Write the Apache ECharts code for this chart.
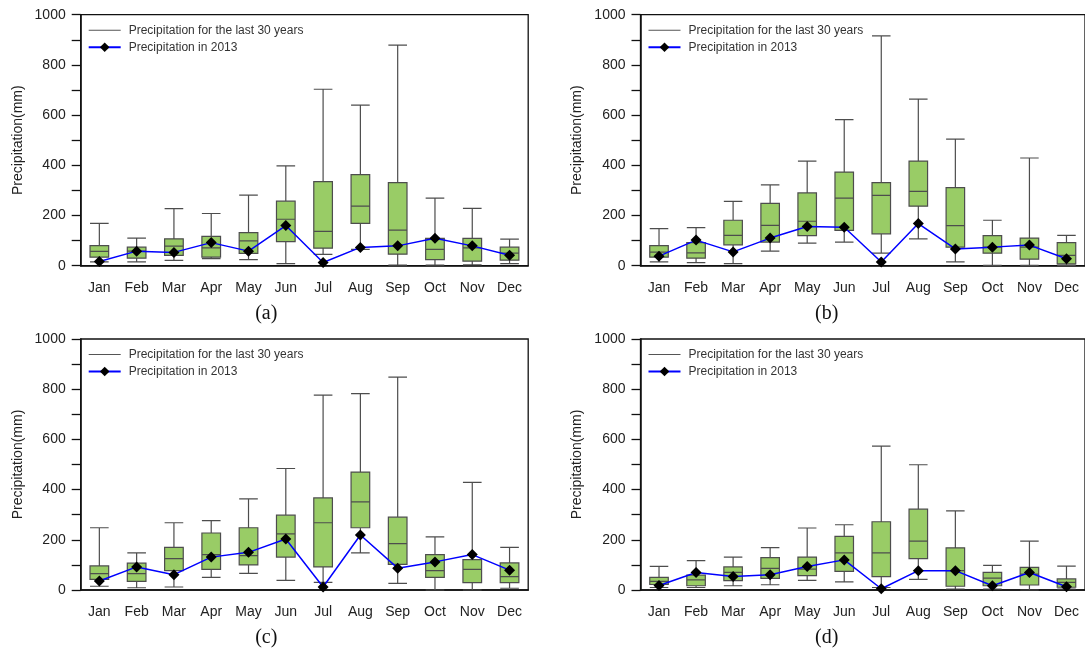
<!DOCTYPE html>
<html lang="en">
  <head>
    <meta charset="UTF-8" />
    <title>Precipitation</title>
    <script src="https://cdn.jsdelivr.net/npm/echarts@6/dist/echarts.min.js"></script>
  </head>

  <body style="margin: 0; background: #fff">
    <div id="main" style="width: 1085px; height: 651px"></div>

    <script>
      var months = ["Jan", "Feb", "Mar", "Apr", "May", "Jun", "Jul", "Aug", "Sep", "Oct", "Nov", "Dec"];
      var yTicks = [0, 200, 400, 600, 800, 1000];

      // [low, q1, median, q3, high] for the last 30 years
      var boxA = [
        [15, 34, 57, 80, 169], [15, 30, 58, 74, 110], [21, 41, 78, 107, 227], [28, 34, 71, 117, 208],
        [24, 49, 99, 132, 281], [8, 96, 185, 257, 398], [45, 70, 137, 335, 703], [65, 169, 237, 363, 640],
        [2, 46, 142, 331, 879], [2, 24, 65, 109, 269], [3, 18, 71, 109, 228], [8, 22, 50, 74, 106]
      ];
      var lineA = [17, 58, 53, 92, 58, 160, 13, 73, 79, 109, 79, 42];

      var boxB = [
        [15, 34, 54, 80, 148], [12, 30, 51, 92, 152], [8, 83, 121, 181, 256], [58, 94, 161, 248, 322],
        [90, 120, 177, 290, 417], [94, 141, 269, 373, 582], [50, 127, 280, 331, 916], [107, 237, 296, 417, 664],
        [15, 74, 160, 311, 504], [1, 50, 74, 120, 181], [1, 26, 74, 110, 429], [1, 7, 41, 92, 121]
      ];
      var lineB = [38, 102, 55, 110, 156, 153, 15, 168, 67, 74, 82, 28];

      var boxC = [
        [15, 42, 65, 96, 248], [9, 34, 65, 107, 148], [12, 77, 125, 170, 268], [50, 82, 141, 227, 276],
        [66, 100, 137, 248, 363], [38, 131, 224, 298, 484], [30, 92, 268, 367, 776], [148, 248, 351, 470, 782],
        [26, 102, 185, 290, 848], [0, 50, 77, 141, 212], [0, 29, 82, 121, 429], [7, 29, 53, 108, 170]
      ];
      var lineC = [36, 92, 61, 131, 150, 203, 12, 219, 87, 112, 141, 79];

      var boxD = [
        [10, 22, 34, 50, 94], [10, 17, 40, 59, 117], [17, 37, 70, 92, 131], [21, 46, 86, 129, 169],
        [38, 57, 83, 131, 247], [32, 74, 148, 214, 260], [10, 53, 148, 272, 573], [42, 125, 195, 322, 499],
        [4, 15, 77, 168, 315], [4, 17, 47, 70, 98], [0, 20, 63, 90, 195], [4, 11, 30, 44, 95]
      ];
      var lineD = [18, 70, 54, 61, 94, 120, 5, 77, 77, 17, 70, 13];

      var panels = [
        { tag: "(a)", box: boxA, line: lineA, left: 80.7, top: 14.7 },
        { tag: "(b)", box: boxB, line: lineB, left: 640.5, top: 14.7 },
        { tag: "(c)", box: boxC, line: lineC, left: 80.7, top: 339 },
        { tag: "(d)", box: boxD, line: lineD, left: 640.5, top: 339 }
      ];

      var font = "Liberation Sans, Arial, sans-serif";
      var boxName = "Precipitation for the last 30 years";
      var lineName = "Precipitation in 2013";

      var option = {
        backgroundColor: "#fff",
        animation: false,
        grid: [],
        xAxis: [],
        yAxis: [],
        legend: [],
        series: [],
        graphic: []
      };

      panels.forEach(function (p, i) {
        option.grid.push({
          left: p.left,
          top: p.top,
          width: 447.5,
          height: 251,
          show: true,
          borderColor: "#111",
          borderWidth: 1.3
        });
        option.xAxis.push({
          type: "category",
          gridIndex: i,
          data: months,
          axisLine: { lineStyle: { color: "#111", width: 1.5 } },
          axisTick: { alignWithLabel: true, length: 8, lineStyle: { color: "#111", width: 1.3 } },
          axisLabel: { color: "#222", fontSize: 14, fontFamily: font, margin: 15 }
        });
        option.yAxis.push({
          type: "value",
          gridIndex: i,
          min: 0,
          max: 1000,
          interval: 100,
          name: "Precipitation(mm)",
          nameLocation: "middle",
          nameGap: 56,
          nameTextStyle: { color: "#222", fontSize: 14, fontFamily: font },
          splitLine: { show: false },
          axisLine: { show: true, lineStyle: { color: "#111", width: 1.5 } },
          axisTick: { show: true, length: 9, lineStyle: { color: "#111", width: 1.3 } },
          axisLabel: {
            color: "#222",
            fontSize: 14,
            fontFamily: font,
            margin: 15,
            formatter: function (v) {
              return yTicks.indexOf(v) >= 0 ? String(v) : "";
            }
          }
        });
        option.legend.push({
          orient: "vertical",
          left: p.left + 2,
          top: p.top + 4.5,
          itemWidth: 32,
          itemHeight: 12,
          itemGap: 5,
          selectedMode: false,
          textStyle: { color: "#333", fontSize: 12, fontFamily: font, padding: [0, 0, 0, 3] },
          data: [
            { name: boxName, icon: "path://M0,0H32V1H0Z", itemStyle: { color: "#555", borderWidth: 0 } },
            { name: lineName }
          ]
        });
        option.series.push({
          name: boxName,
          type: "boxplot",
          xAxisIndex: i,
          yAxisIndex: i,
          boxWidth: ["50%", "50%"],
          itemStyle: { color: "#99cc66", borderColor: "#4d4d4d", borderWidth: 1.2 },
          data: p.box
        });
        option.series.push({
          name: lineName,
          type: "line",
          xAxisIndex: i,
          yAxisIndex: i,
          symbol: "diamond",
          symbolSize: 11,
          lineStyle: { color: "#0000ff", width: 1.5 },
          itemStyle: { color: "#000" },
          data: p.line
        });
        option.graphic.push({
          type: "text",
          left: p.left + 186.5 - 12,
          top: p.top + 251 + 38,
          style: { text: p.tag, fill: "#111", font: "20px 'Liberation Serif', 'Times New Roman', serif" }
        });
      });

      var chart = echarts.init(document.getElementById("main"));
      chart.setOption(option);
    </script>
  </body>
</html>
